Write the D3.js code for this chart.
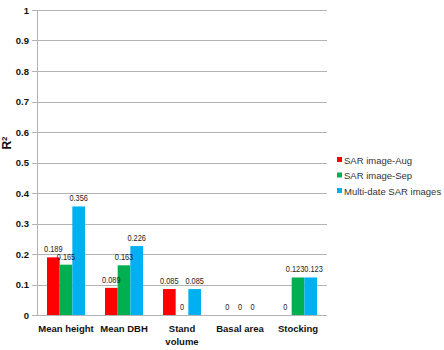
<!DOCTYPE html>
<html>
<head>
<meta charset="utf-8">
<script src="https://cdn.jsdelivr.net/npm/d3@7"></script>
<style>
  body { margin: 0; background: #fff; }
  svg { display: block; }
</style>
</head>
<body>
<script>
const width = 444, height = 350;

// data
const categories = [["Mean height"], ["Mean DBH"], ["Stand", "volume"], ["Basal area"], ["Stocking"]];
const seriesNames = ["SAR image-Aug", "SAR image-Sep", "Multi-date SAR images"];
const aug = [0.189, 0.089, 0.085, 0, 0];
const sep = [0.165, 0.163, 0, 0, 0.123];
const multi = [0.356, 0.226, 0.085, 0, 0.123];
const yTicks = [0, 0.1, 0.2, 0.3, 0.4, 0.5, 0.6, 0.7, 0.8, 0.9, 1];
const colors = ["#ff0000", "#00b050", "#00b0f0"];

const series = [aug, sep, multi];

const svg = d3.select("body").append("svg")
    .attr("width", width)
    .attr("height", height);

const x = d3.scaleBand()
    .domain(d3.range(categories.length))
    .range([37, 327])
    .paddingInner(20 / 58)
    .paddingOuter(10 / 58);

const xs = d3.scaleBand()
    .domain(d3.range(series.length))
    .range([0, x.bandwidth()]);

const y = d3.scaleLinear()
    .domain([0, 1])
    .range([315, 10]);

// gridlines
svg.append("g")
  .selectAll("line")
  .data(yTicks)
  .join("line")
    .attr("x1", 32).attr("x2", 327)
    .attr("y1", d => Math.round(y(d)) + 0.5)
    .attr("y2", d => Math.round(y(d)) + 0.5)
    .attr("stroke", "#b3b3b3")
    .attr("stroke-width", 1);

// y axis line
svg.append("line")
    .attr("x1", 37.5).attr("x2", 37.5)
    .attr("y1", y(1)).attr("y2", y(0))
    .attr("stroke", "#b3b3b3");

// y tick labels
svg.append("g")
  .selectAll("text")
  .data(yTicks)
  .join("text")
    .attr("x", 29)
    .attr("y", d => y(d) + 3.5)
    .attr("text-anchor", "end")
    .style("font", "bold 9.5px 'Liberation Sans', Arial, sans-serif")
    .attr("fill", "#111")
    .text(d => d3.format("")(d));

// bars
const barLayer = svg.append("g");
series.forEach((vals, si) => {
  barLayer.append("g")
    .attr("fill", colors[si])
    .selectAll("rect")
    .data(vals)
    .join("rect")
      .attr("x", (d, ci) => x(ci) + xs(si))
      .attr("y", d => y(d))
      .attr("width", xs.bandwidth())
      .attr("height", d => y(0) - y(d));
});

// value labels, on top of all bars
const labelW = 18.5;
const labels = [];
series.forEach((vals, si) => {
  vals.forEach((v, ci) => {
    labels.push({ v, si, ci, cx: x(ci) + xs(si) + xs.bandwidth() / 2, cy: y(v) - 5 });
  });
});
// push apart neighbours sitting at the same height
labels.forEach(a => {
  const b = labels.find(l => l.ci === a.ci && l.si === a.si + 1);
  if (b && a.v > 0 && b.v > 0 && Math.abs(a.cy - b.cy) < 3) {
    const overlap = labelW - (b.cx - a.cx);
    if (overlap > 0) { a.cx -= overlap / 2; b.cx += overlap / 2; }
  }
});

svg.append("g")
  .selectAll("text")
  .data(labels)
  .join("text")
    .attr("transform", d => `translate(${d.cx},${d.cy}) scale(0.82,1)`)
    .attr("text-anchor", "middle")
    .attr("fill", "#1a1a1a")
    .style("font", "9px 'Liberation Sans', Arial, sans-serif")
    .text(d => d.v === 0 ? "0" : d3.format(".3f")(d.v));

// category labels
const cat = svg.append("g")
  .selectAll("text")
  .data(categories)
  .join("text")
    .attr("x", (d, i) => x(i) + x.bandwidth() / 2)
    .attr("y", 332)
    .attr("text-anchor", "middle")
    .style("font", "bold 9.5px 'Liberation Sans', Arial, sans-serif")
    .attr("fill", "#111");

cat.selectAll("tspan")
  .data(d => d)
  .join("tspan")
    .attr("x", function() { return d3.select(this.parentNode).attr("x"); })
    .attr("dy", (d, i) => i === 0 ? 0 : 13)
    .text(d => d);

// y axis title
const yt = svg.append("text")
    .attr("transform", "translate(11,143) rotate(-90)")
    .attr("text-anchor", "middle")
    .style("font", "bold 12px 'Liberation Sans', Arial, sans-serif")
    .attr("fill", "#111");
yt.append("tspan").text("R");
yt.append("tspan").attr("dy", -4).style("font-size", "8px").text("2");

// legend
const legend = svg.append("g")
  .selectAll("g")
  .data(seriesNames)
  .join("g")
    .attr("transform", (d, i) => `translate(337,${160 + i * 15.5})`);

legend.append("rect")
    .attr("x", 0).attr("y", -3)
    .attr("width", 5).attr("height", 5)
    .attr("fill", (d, i) => colors[i]);

legend.append("text")
    .attr("x", 7)
    .attr("y", 3.5)
    .style("font", "9.5px 'Liberation Sans', Arial, sans-serif")
    .attr("fill", "#333")
    .text(d => d);
</script>
</body>
</html>
